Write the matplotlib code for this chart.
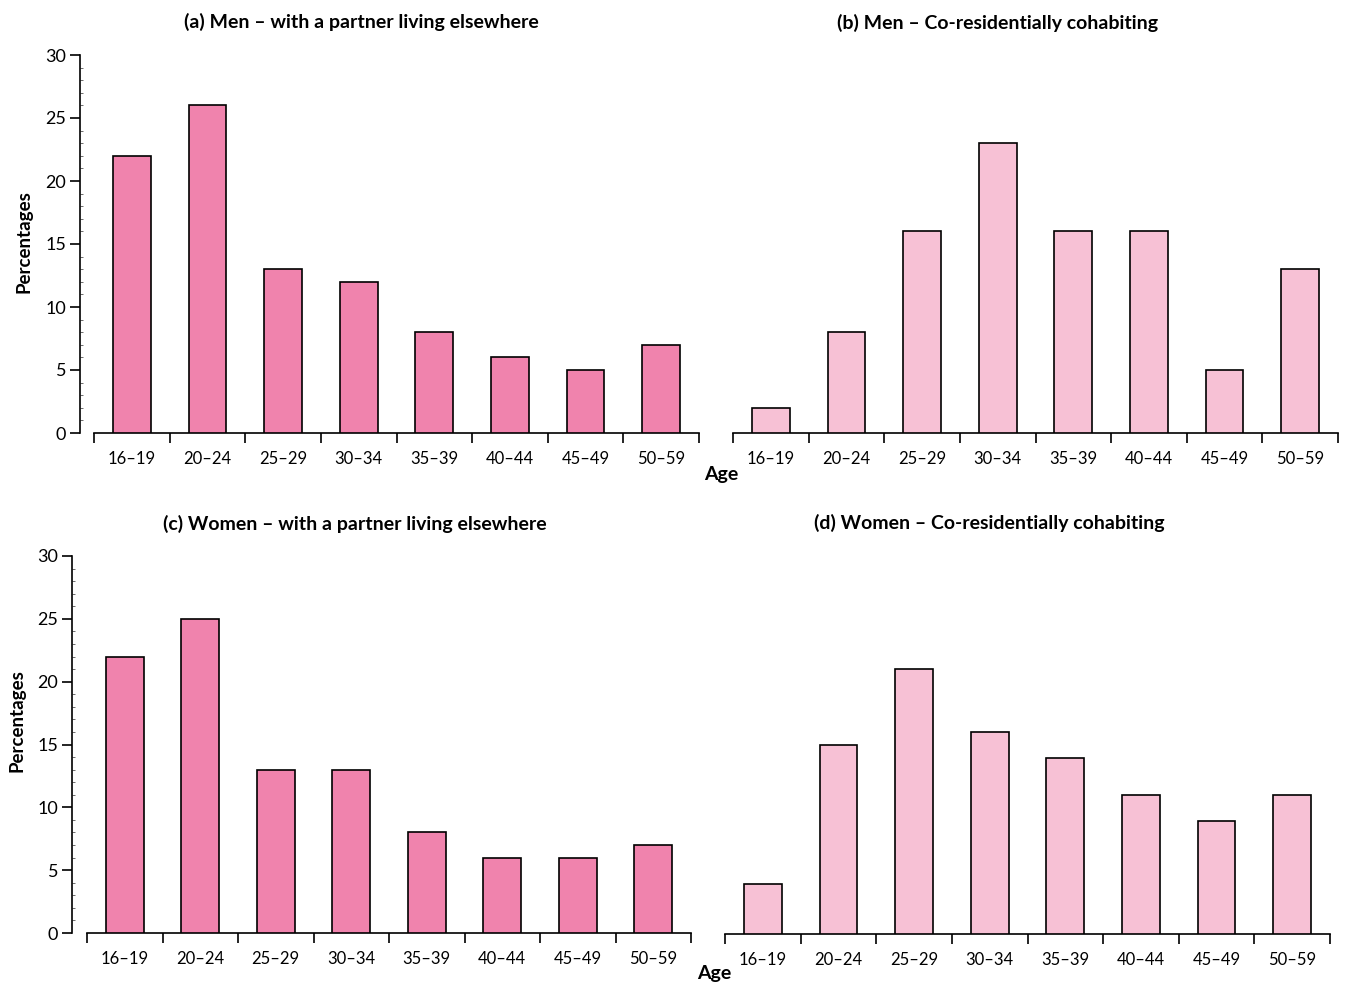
import matplotlib
matplotlib.use("Agg")
import matplotlib.pyplot as plt
from matplotlib.ticker import MultipleLocator, FixedLocator, NullFormatter

plt.rcParams['font.family'] = ['Lato', 'DejaVu Sans']

age_groups = ["16\u201319", "20\u201324", "25\u201329", "30\u201334",
              "35\u201339", "40\u201344", "45\u201349", "50\u201359"]

men_elsewhere = [22, 26, 13, 12, 8, 6, 5, 7]
men_cohabiting = [2, 8, 16, 23, 16, 16, 5, 13]
women_elsewhere = [22, 25, 13, 13, 8, 6, 6, 7]
women_cohabiting = [4, 15, 21, 16, 14, 11, 9, 11]

titles = ["(a) Men \u2013 with a partner living elsewhere",
          "(b) Men \u2013 Co-residentially cohabiting",
          "(c) Women \u2013 with a partner living elsewhere",
          "(d) Women \u2013 Co-residentially cohabiting"]

DARK = "#F083AD"
LIGHT = "#F7C1D5"

W, H = 1345, 983
fig = plt.figure(figsize=(W / 100, H / 100), dpi=100)


def px_axes(x0, x1, y_bottom, y_top):
    return fig.add_axes([x0 / W, 1 - y_bottom / H, (x1 - x0) / W, (y_bottom - y_top) / H])


def draw_panel(ax, values, color, show_y, y_offset_px):
    n = len(values)
    ax.bar(range(n), values, width=0.5, color=color, edgecolor="black", linewidth=1.2, zorder=3)
    ax.set_xlim(-0.5, n - 0.5)
    ax.set_ylim(0, 30)
    for s in ("top", "right"):
        ax.spines[s].set_visible(False)
    ax.spines["bottom"].set_linewidth(1.2)
    # boundary ticks between age groups, labels centred on bars
    ax.xaxis.set_major_locator(FixedLocator([i - 0.5 for i in range(n + 1)]))
    ax.xaxis.set_major_formatter(NullFormatter())
    ax.xaxis.set_minor_locator(FixedLocator(list(range(n))))
    ax.set_xticklabels(age_groups, minor=True)
    ax.tick_params(axis="x", which="major", direction="out", length=7, width=1.2)
    ax.tick_params(axis="x", which="minor", length=0, pad=13, labelsize=12)
    if show_y:
        ax.spines["left"].set_position(("outward", y_offset_px * 0.72))
        ax.spines["left"].set_linewidth(1.2)
        ax.yaxis.set_major_locator(MultipleLocator(5))
        ax.yaxis.set_minor_locator(MultipleLocator(1))
        ax.tick_params(axis="y", which="major", direction="out", length=7, width=1.2, labelsize=13, pad=3)
        ax.tick_params(axis="y", which="minor", direction="in", length=2.5, width=0.6, color="#555555")
    else:
        ax.spines["left"].set_visible(False)
        ax.set_yticks([])


ax_a = px_axes(94, 699, 433, 55)
draw_panel(ax_a, men_elsewhere, DARK, True, 14)
ax_b = px_axes(733, 1338, 433, 55)
draw_panel(ax_b, men_cohabiting, LIGHT, False, 0)
ax_c = px_axes(87, 691, 933, 556)
draw_panel(ax_c, women_elsewhere, DARK, True, 15)
ax_d = px_axes(725, 1330, 934, 556)
draw_panel(ax_d, women_cohabiting, LIGHT, False, 0)

# y-axis titles for the left-hand panels
for (lx, ly) in [(24, 242), (17, 721)]:
    fig.text(lx / W, 1 - ly / H, "Percentages", rotation=90, ha="center", va="center",
             fontsize=13.5, fontweight="bold")

title_pos = [(361, 22), (998, 23), (355, 524), (989, 523)]
for (tx, ty), t in zip(title_pos, titles):
    fig.text(tx / W, 1 - ty / H, t, ha="center", va="center", fontsize=14, fontweight="bold")

fig.text(721 / W, 1 - 474 / H, "Age", ha="center", va="center", fontsize=14, fontweight="bold")
fig.text(714 / W, 1 - 974 / H, "Age", ha="center", va="center", fontsize=14, fontweight="bold")

fig.savefig("out.png", dpi=100)
